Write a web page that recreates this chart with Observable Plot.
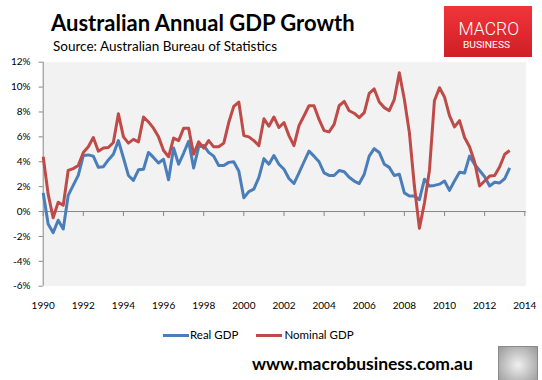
<!DOCTYPE html>
<html><head><meta charset="utf-8">
<script src="https://cdn.jsdelivr.net/npm/d3@7"></script>
<script src="https://cdn.jsdelivr.net/npm/@observablehq/plot@0.6"></script>
<style>
html,body{margin:0;padding:0;background:#fff;}
#wrap{position:relative;width:542px;height:380px;overflow:hidden;font-family:Lato,"Open Sans",sans-serif;color:#000;}
.abs{position:absolute;white-space:nowrap;line-height:1;}
#title{left:51px;top:12.3px;font-size:22px;font-weight:700;}
#subtitle{left:53px;top:40.2px;font-size:13.5px;}
#logo{position:absolute;left:444px;top:6px;}
#chart{position:absolute;left:0;top:55px;}
.lg-line{position:absolute;height:3px;top:334px;width:26px;}
.lg-text{font-size:11.5px;top:329.3px;}
#site{left:252px;top:355.2px;font-size:17.5px;font-weight:700;}
#fox{position:absolute;left:498px;top:346px;width:38px;height:40px;border:1px solid #8a8a8a;background:radial-gradient(circle at 50% 45%,#f0f0f0 0%,#c4c4c4 45%,#8f8f8f 100%);}
</style></head><body>
<div id="wrap">
  <div id="title" class="abs">Australian Annual GDP Growth</div>
  <div id="subtitle" class="abs">Source: Australian Bureau of Statistics</div>
  <svg id="logo" width="88" height="51" viewBox="0 0 88 51">
    <defs><linearGradient id="lg" x1="0" y1="0" x2="0" y2="1">
      <stop offset="0" stop-color="#f0353a"/><stop offset="1" stop-color="#cf1f26"/></linearGradient></defs>
    <rect x="0" y="0" width="88" height="51" fill="url(#lg)"/>
    <text x="14.5" y="28.5" font-family="Roboto, sans-serif" font-weight="300" font-size="19" fill="#fff" textLength="60.5" lengthAdjust="spacingAndGlyphs">MACRO</text>
    <text x="19" y="41.5" font-family="Roboto, sans-serif" font-size="8.5" fill="#fff" textLength="47" lengthAdjust="spacingAndGlyphs">BUSINESS</text>
  </svg>
  <div id="chart"></div>
  <div class="lg-line" style="left:162.6px;background:#4a7ebb"></div>
  <div class="abs lg-text" style="left:190px">Real GDP</div>
  <div class="lg-line" style="left:256px;background:#be4b48"></div>
  <div class="abs lg-text" style="left:284.4px">Nominal GDP</div>
  <div id="site" class="abs">www.macrobusiness.com.au</div>
  <div id="fox"></div>
</div>
<script>
// Quarterly annual growth (%), starting Q1 1990
const startYear = 1990;
const realGDP = [
  1.5, -1.0, -1.7, -0.7, -1.4, 1.3, 2.1, 2.9, 4.5, 4.55, 4.45, 3.55, 3.6, 4.15, 4.6, 5.7,
  4.3, 2.9, 2.5, 3.35, 3.4, 4.75, 4.35, 3.9, 4.2, 2.55, 5.1, 3.8, 4.7, 5.65, 3.5, 5.2,
  5.3, 4.75, 4.45, 3.7, 3.7, 3.95, 4.0, 3.25, 1.1, 1.6, 1.8, 2.75, 4.25, 3.8, 4.5, 3.8,
  3.4, 2.65, 2.25, 3.1, 4.0, 4.85, 4.45, 4.0, 3.1, 2.9, 2.9, 3.3, 3.2, 2.75, 2.45, 2.25,
  3.0, 4.45, 5.05, 4.75, 3.8, 3.55, 2.9, 3.0, 1.5, 1.25, 1.25, 0.95, 2.6, 2.05, 2.1, 2.2,
  2.45, 1.7, 2.45, 3.15, 3.1, 4.45, 3.8, 3.3, 2.8, 2.05, 2.35, 2.3, 2.65, 3.5
];
const nominalGDP = [
  4.4, 1.4, -0.5, 0.75, 0.5, 3.3, 3.45, 3.7, 4.75, 5.2, 5.95, 4.85, 5.1, 5.15, 5.55, 7.85,
  6.0, 5.5, 5.8, 5.6, 7.6, 7.2, 6.7, 6.0, 4.9, 4.4, 5.9, 5.7, 6.7, 6.7, 4.6, 5.6,
  5.1, 5.7, 5.2, 5.2, 5.5, 7.15, 8.45, 8.8, 6.1, 6.0, 5.7, 5.3, 7.45, 6.85, 7.6, 6.75,
  7.15, 6.1, 5.3, 6.9, 7.7, 8.5, 8.5, 7.4, 6.5, 6.4, 7.0, 8.5, 8.85, 8.1, 7.9, 7.55,
  7.95, 9.5, 9.85, 8.8, 8.35, 8.1, 9.0, 11.15, 9.0, 6.35, 2.05, -1.35, 0.7, 3.3, 8.9, 9.95,
  9.2, 7.7, 6.8, 7.3, 5.95, 5.2, 4.0, 2.05, 2.45, 2.85, 2.9, 3.6, 4.6, 4.9
];
const seriesNames = ["Real GDP", "Nominal GDP"];
const seriesColors = ["#4a7ebb", "#be4b48"];
const xTickYears = [1990, 1992, 1994, 1996, 1998, 2000, 2002, 2004, 2006, 2008, 2010, 2012, 2014];
const yTicks = [-6, -4, -2, 0, 2, 4, 6, 8, 10, 12];

const quarterDate = k => new Date(Date.UTC(startYear + Math.floor(k / 4), 3 * (k % 4), 1));
const rows = [];
realGDP.forEach((v, k) => rows.push({date: quarterDate(k), value: v, series: seriesNames[0]}));
nominalGDP.forEach((v, k) => rows.push({date: quarterDate(k), value: v, series: seriesNames[1]}));
const tickDates = xTickYears.map(y => new Date(Date.UTC(y, 0, 1)));

const axisGray = "#868686";
const chart = Plot.plot({
  width: 542, height: 265,
  marginLeft: 42.7, marginRight: 16.3, marginTop: 6.7, marginBottom: 34.3,
  style: {fontFamily: "Lato, 'Open Sans', sans-serif", fontSize: "10px", color: "#000", background: "transparent", overflow: "visible"},
  x: {type: "utc", domain: [tickDates[0], tickDates[tickDates.length - 1]], insetRight: 1.4, axis: null},
  y: {domain: [yTicks[0], yTicks[yTicks.length - 1]], axis: null},
  color: {domain: seriesNames, range: seriesColors},
  marks: [
    Plot.frame({fill: "#f2f2f2", stroke: null}),
    Plot.ruleY([0], {stroke: axisGray, strokeWidth: 1}),
    Plot.ruleX(tickDates, {y1: 0, y2: 0, insetBottom: -5, stroke: axisGray}),
    Plot.ruleX([tickDates[0]], {stroke: axisGray}),
    Plot.axisY({ticks: yTicks, tickFormat: d => d + "%", tickSize: 4, tickPadding: 8.7, stroke: axisGray, fill: "#000", label: null}),
    Plot.axisX({ticks: tickDates, tickFormat: d => String(d.getUTCFullYear()), tickSize: 0, tickPadding: 15.3, fill: "#000", label: null}),
    Plot.line(rows, {x: "date", y: "value", stroke: "series", z: "series", strokeWidth: 3, strokeLinejoin: "round", strokeLinecap: "butt"})
  ]
});
document.getElementById("chart").appendChild(chart);
</script>
</body></html>
